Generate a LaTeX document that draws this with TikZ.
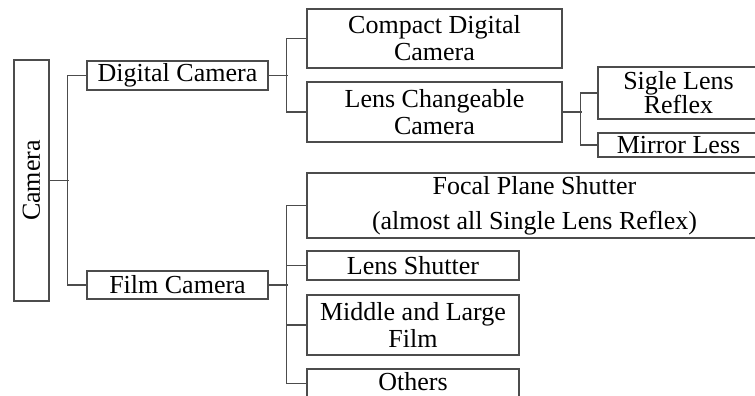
\documentclass[tikz,border=0pt]{standalone}
\usepackage{fontspec}
\setmainfont{Liberation Serif}
\tikzset{
  box/.style={draw=black!70, line width=1.4pt, inner sep=0pt, align=center,
    text=black, font=\fontsize{26}{27}\selectfont},
  link/.style={draw=black!70, line width=1.6pt}
}
\begin{document}
\begin{tikzpicture}[x=1pt,y=-1pt]
\useasboundingbox (0,0) rectangle (755,396);
\clip (0,0) rectangle (755,396);

\node[box, minimum width=241, minimum height=35, rotate=90] (cam) at (31.5,180.5) {Camera};

\node[box, minimum width=181, minimum height=29] (dig) at (177.5,75.5) {Digital Camera};
\node[box, minimum width=181, minimum height=28] (film) at (177.5,285) {Film Camera};

\node[box, minimum width=255, minimum height=59] (compact) at (434.5,38.5) {Compact Digital\\Camera};
\node[box, minimum width=255, minimum height=60] (lensch) at (434.5,112) {Lens Changeable\\Camera};

\node[box, minimum width=161, minimum height=52] (slr) at (678.5,93) {Sigle Lens\\[-3pt]Reflex};
\node[box, minimum width=161, minimum height=24] (mirror) at (678.5,145) {Mirror Less};

\node[box, minimum width=455, minimum height=65] (focal) at (534.5,205.5) {Focal Plane Shutter\\[8pt](almost all Single Lens Reflex)};
\node[box, minimum width=212, minimum height=29] (lshut) at (413,265.5) {Lens Shutter};
\node[box, minimum width=212, minimum height=60] (midlarge) at (413,325) {Middle and Large\\Film};
\node[box, minimum width=212, minimum height=29] (others) at (413,383.5) {\raisebox{4pt}{Others}};

% branches
\draw[link] (cam.south) -- ++(19,0);
\draw[link] (dig.west) -- ++(-19,0) |- (film.west);

\draw[link] (dig.east) -- ++(19,0);
\draw[link] (compact.west) -- ++(-20,0) |- (lensch.west);

\draw[link] (lensch.east) -- ++(19,0);
\draw[link] (slr.west) -- ++(-17,0) |- (mirror.west);

\draw[link] (film.east) -- ++(19,0);
\draw[link] (focal.west) -- ++(-20,0) |- (others.west);
\foreach \n in {lshut,midlarge}
  \draw[link] (\n.west) -- ++(-20,0);

\end{tikzpicture}
\end{document}
